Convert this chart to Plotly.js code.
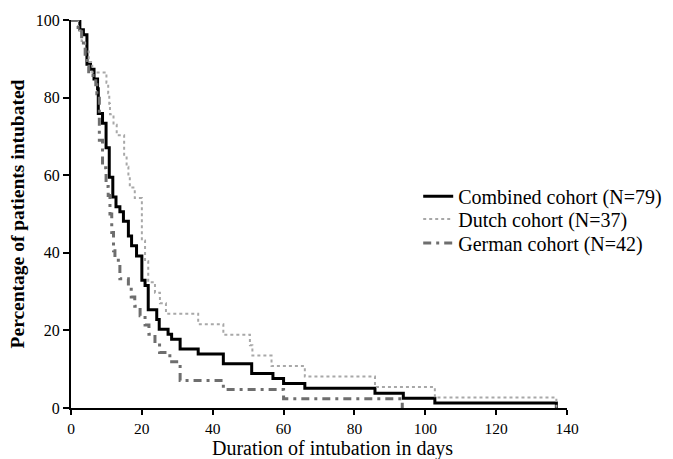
<!DOCTYPE html>
<html>
<head>
<meta charset="utf-8">
<script src="https://cdn.plot.ly/plotly-3.0.1.min.js"></script>
<style>html,body{margin:0;padding:0;background:#fff;}#chart{width:673px;height:459px;}</style>
</head>
<body>
<div id="chart"></div>
<script>
// Kaplan-Meier style step data (days, percentage still intubated)
const combinedDays = [0, 2.5, 3.5, 4.5, 5.5, 6.5, 7.5, 7.7, 8.9, 9.9, 10.8, 11.8, 12.7, 13.8, 14.8, 16.2, 17.1, 18.5, 20, 20.9, 21.8, 24.2, 24.9, 27.4, 28.4, 30.8, 35.9, 43, 51, 57, 60, 66, 85.8, 93.8, 102.7, 137];
const combinedPct  = [100, 97.5, 96.2, 88.6, 87.3, 84.8, 82.3, 75.9, 73.4, 67.1, 59.5, 54.4, 51.9, 50.6, 48.1, 44.3, 41.8, 39.2, 32.9, 31.6, 25.3, 22.8, 20.3, 19.0, 17.7, 15.2, 13.9, 11.4, 8.9, 7.6, 6.3, 5.1, 3.8, 2.5, 1.3, 0];

const dutchDays = [0, 2, 3, 4, 5, 6, 10, 10.5, 10.8, 11, 12, 12.9, 15, 15.7, 16.2, 16.6, 18, 20, 20.9, 21.8, 23.7, 25.1, 26.8, 35.9, 43, 50.5, 51.2, 56.6, 66, 85.8, 102.7, 137];
const dutchPct  = [100, 97.3, 94.6, 91.9, 89.2, 86.5, 83.8, 81.1, 78.4, 75.7, 73.0, 70.3, 64.9, 62.2, 59.5, 56.8, 54.1, 43.2, 37.8, 32.4, 29.7, 27.0, 24.3, 21.6, 18.9, 16.2, 13.5, 10.8, 8.1, 5.4, 2.7, 0];

const germanDays = [0, 2, 3, 3.5, 4, 4.5, 5, 7, 7.3, 8, 8.9, 9.9, 10.5, 11, 11.5, 12, 12.4, 13.8, 16.2, 17, 18, 19.5, 20.9, 22, 23.7, 25, 27.9, 30.8, 43, 60, 93.5];
const germanPct  = [100, 97.6, 95.2, 92.9, 90.5, 88.1, 85.7, 83.3, 81.0, 69.0, 61.9, 57.1, 54.8, 50.0, 45.2, 40.5, 38.1, 33.3, 31.0, 28.6, 26.2, 23.8, 21.4, 19.0, 16.7, 14.3, 11.9, 7.1, 4.8, 2.4, 0];

const seriesNames = ["Combined cohort (N=79)", "Dutch cohort (N=37)", "German cohort (N=42)"];
const xTicks = [0, 20, 40, 60, 80, 100, 120, 140];
const yTicks = [0, 20, 40, 60, 80, 100];
const xTitle = 'Duration of intubation in days';
const yTitle = 'Percentage of patients intubated';

const serif = "Liberation Serif, serif";

const traces = [
  {x: combinedDays, y: combinedPct, name: seriesNames[0], type: 'scatter', mode: 'lines', legend: 'legend',
   line: {shape: 'hv', color: '#000000', width: 3}},
  {x: dutchDays, y: dutchPct, name: seriesNames[1], type: 'scatter', mode: 'lines', legend: 'legend2',
   line: {shape: 'hv', color: '#a8a8a8', width: 2, dash: 'dot'}},
  {x: germanDays, y: germanPct, name: seriesNames[2], type: 'scatter', mode: 'lines', legend: 'legend3',
   line: {shape: 'hv', color: '#6e6e6e', width: 3, dash: '8px,5px,3px,5px'}}
];

function legendAt(yPaper) {
  return {x: 0.70, y: yPaper, xanchor: 'left', yanchor: 'middle', font: {family: serif, size: 20, color: '#000'},
          bgcolor: 'rgba(0,0,0,0)', itemwidth: 30, borderwidth: 0};
}

const layout = {
  width: 673, height: 459,
  margin: {l: 71, r: 106, t: 20, b: 51, autoexpand: false},
  paper_bgcolor: '#ffffff', plot_bgcolor: '#ffffff',
  font: {family: serif, color: '#000', size: 16},
  showlegend: true,
  legend: legendAt(0.546),
  legend2: legendAt(0.487),
  legend3: legendAt(0.425),
  annotations: [
    {text: xTitle, xref: 'paper', yref: 'paper', x: 0.527, y: -0.104, xanchor: 'center', yanchor: 'middle',
     showarrow: false, font: {family: serif, size: 20, color: '#000'}}
  ],
  xaxis: {range: [0, 140], tickvals: xTicks, ticktext: xTicks.map(String), showgrid: false, zeroline: false,
          showline: true, linecolor: '#000', linewidth: 2, ticks: 'outside', ticklen: 5, tickwidth: 2, tickcolor: '#000',
          tickfont: {family: serif, size: 15.5, color: '#000'},
          automargin: false},
  yaxis: {range: [0, 100], tickvals: yTicks, ticktext: yTicks.map(String), showgrid: false, zeroline: false,
          showline: true, linecolor: '#000', linewidth: 2, ticks: 'outside', ticklen: 6, tickwidth: 2, tickcolor: '#000',
          tickfont: {family: serif, size: 16, color: '#000'},
          title: {text: '<b>' + yTitle + '</b>', font: {family: serif, size: 19.5, color: '#000'}, standoff: 6},
          automargin: false}
};

Plotly.newPlot('chart', traces, layout, {displayModeBar: false, staticPlot: true});
</script>
</body>
</html>
